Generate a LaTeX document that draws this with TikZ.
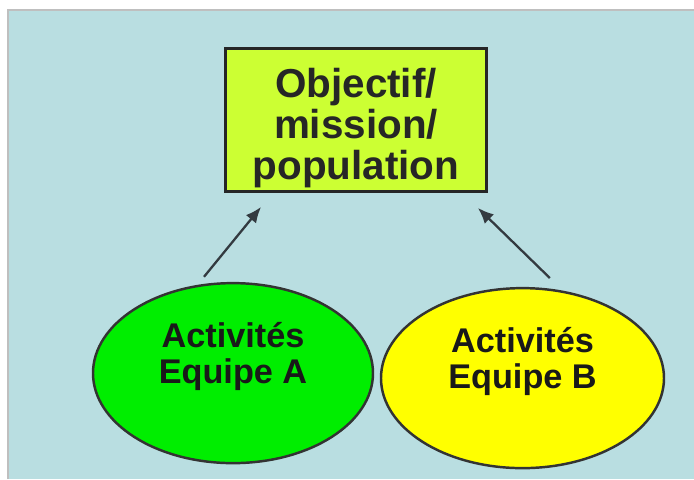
\documentclass[tikz,border=0pt]{standalone}
\usepackage{fontspec}
\setmainfont{Liberation Sans}
\usepackage{xcolor}
\usetikzlibrary{shapes.geometric,positioning,arrows.meta}
\definecolor{bgblue}{HTML}{B9DEE1}
\definecolor{goalfill}{HTML}{CCFF33}
\definecolor{teamgreen}{HTML}{00EE00}
\definecolor{teamyellow}{HTML}{FFFF00}
\definecolor{linkgray}{HTML}{333A40}
\tikzset{
  goal/.style={draw=black!85, line width=1.6pt, fill=goalfill, minimum width=5.22cm,
    minimum height=2.86cm},
  goaltext/.style={align=center, text=black!85, font=\fontsize{23}{23.5}\selectfont\bfseries},
  team/.style={ellipse, draw=black!80, line width=1.4pt, minimum height=3.6cm},
  teamtext/.style={align=center, text=black!90, font=\fontsize{19.5}{20.5}\selectfont\bfseries},
  link/.style={draw=linkgray, line width=1.3pt, -{Latex[length=9pt,width=7.5pt]}},
}
\begin{document}
\begin{tikzpicture}
	% Background
	\useasboundingbox (0,0) rectangle (13.88,9.58);
	\fill[bgblue] (0.16,0) rectangle (13.88,9.38);
	\draw[black!25, line width=0.6pt] (0.16,0) -- (0.16,9.38) -- (13.88,9.38);

	% Define nodes
	\node[goal] (goal) at (7.12,7.18) {};
	\node[goaltext] (gt) at ([yshift=-0.16cm]goal.center) {Objectif/\\mission/\\population};
	\node[team, fill=teamgreen, minimum width=5.6cm, below=1.78cm of goal.south, anchor=north, xshift=-2.46cm] (ea) {};
	\node[team, fill=teamyellow, minimum width=5.66cm, below=1.88cm of goal.south, anchor=north, xshift=3.33cm] (eb) {};
	\node[teamtext] (ta) at ([yshift=0.34cm]ea.center) {Activités\\Equipe A};
	\node[teamtext] (tb) at ([yshift=0.34cm]eb.center) {Activités\\Equipe B};

	% Links
	\draw[link] ([yshift=4pt]ea.108) -- ([xshift=0.74cm,yshift=-0.28cm]goal.south west);
	\draw[link] ([yshift=6pt]eb.73) -- ([xshift=-0.2cm,yshift=-0.3cm]goal.south east);
\end{tikzpicture}
\end{document}
